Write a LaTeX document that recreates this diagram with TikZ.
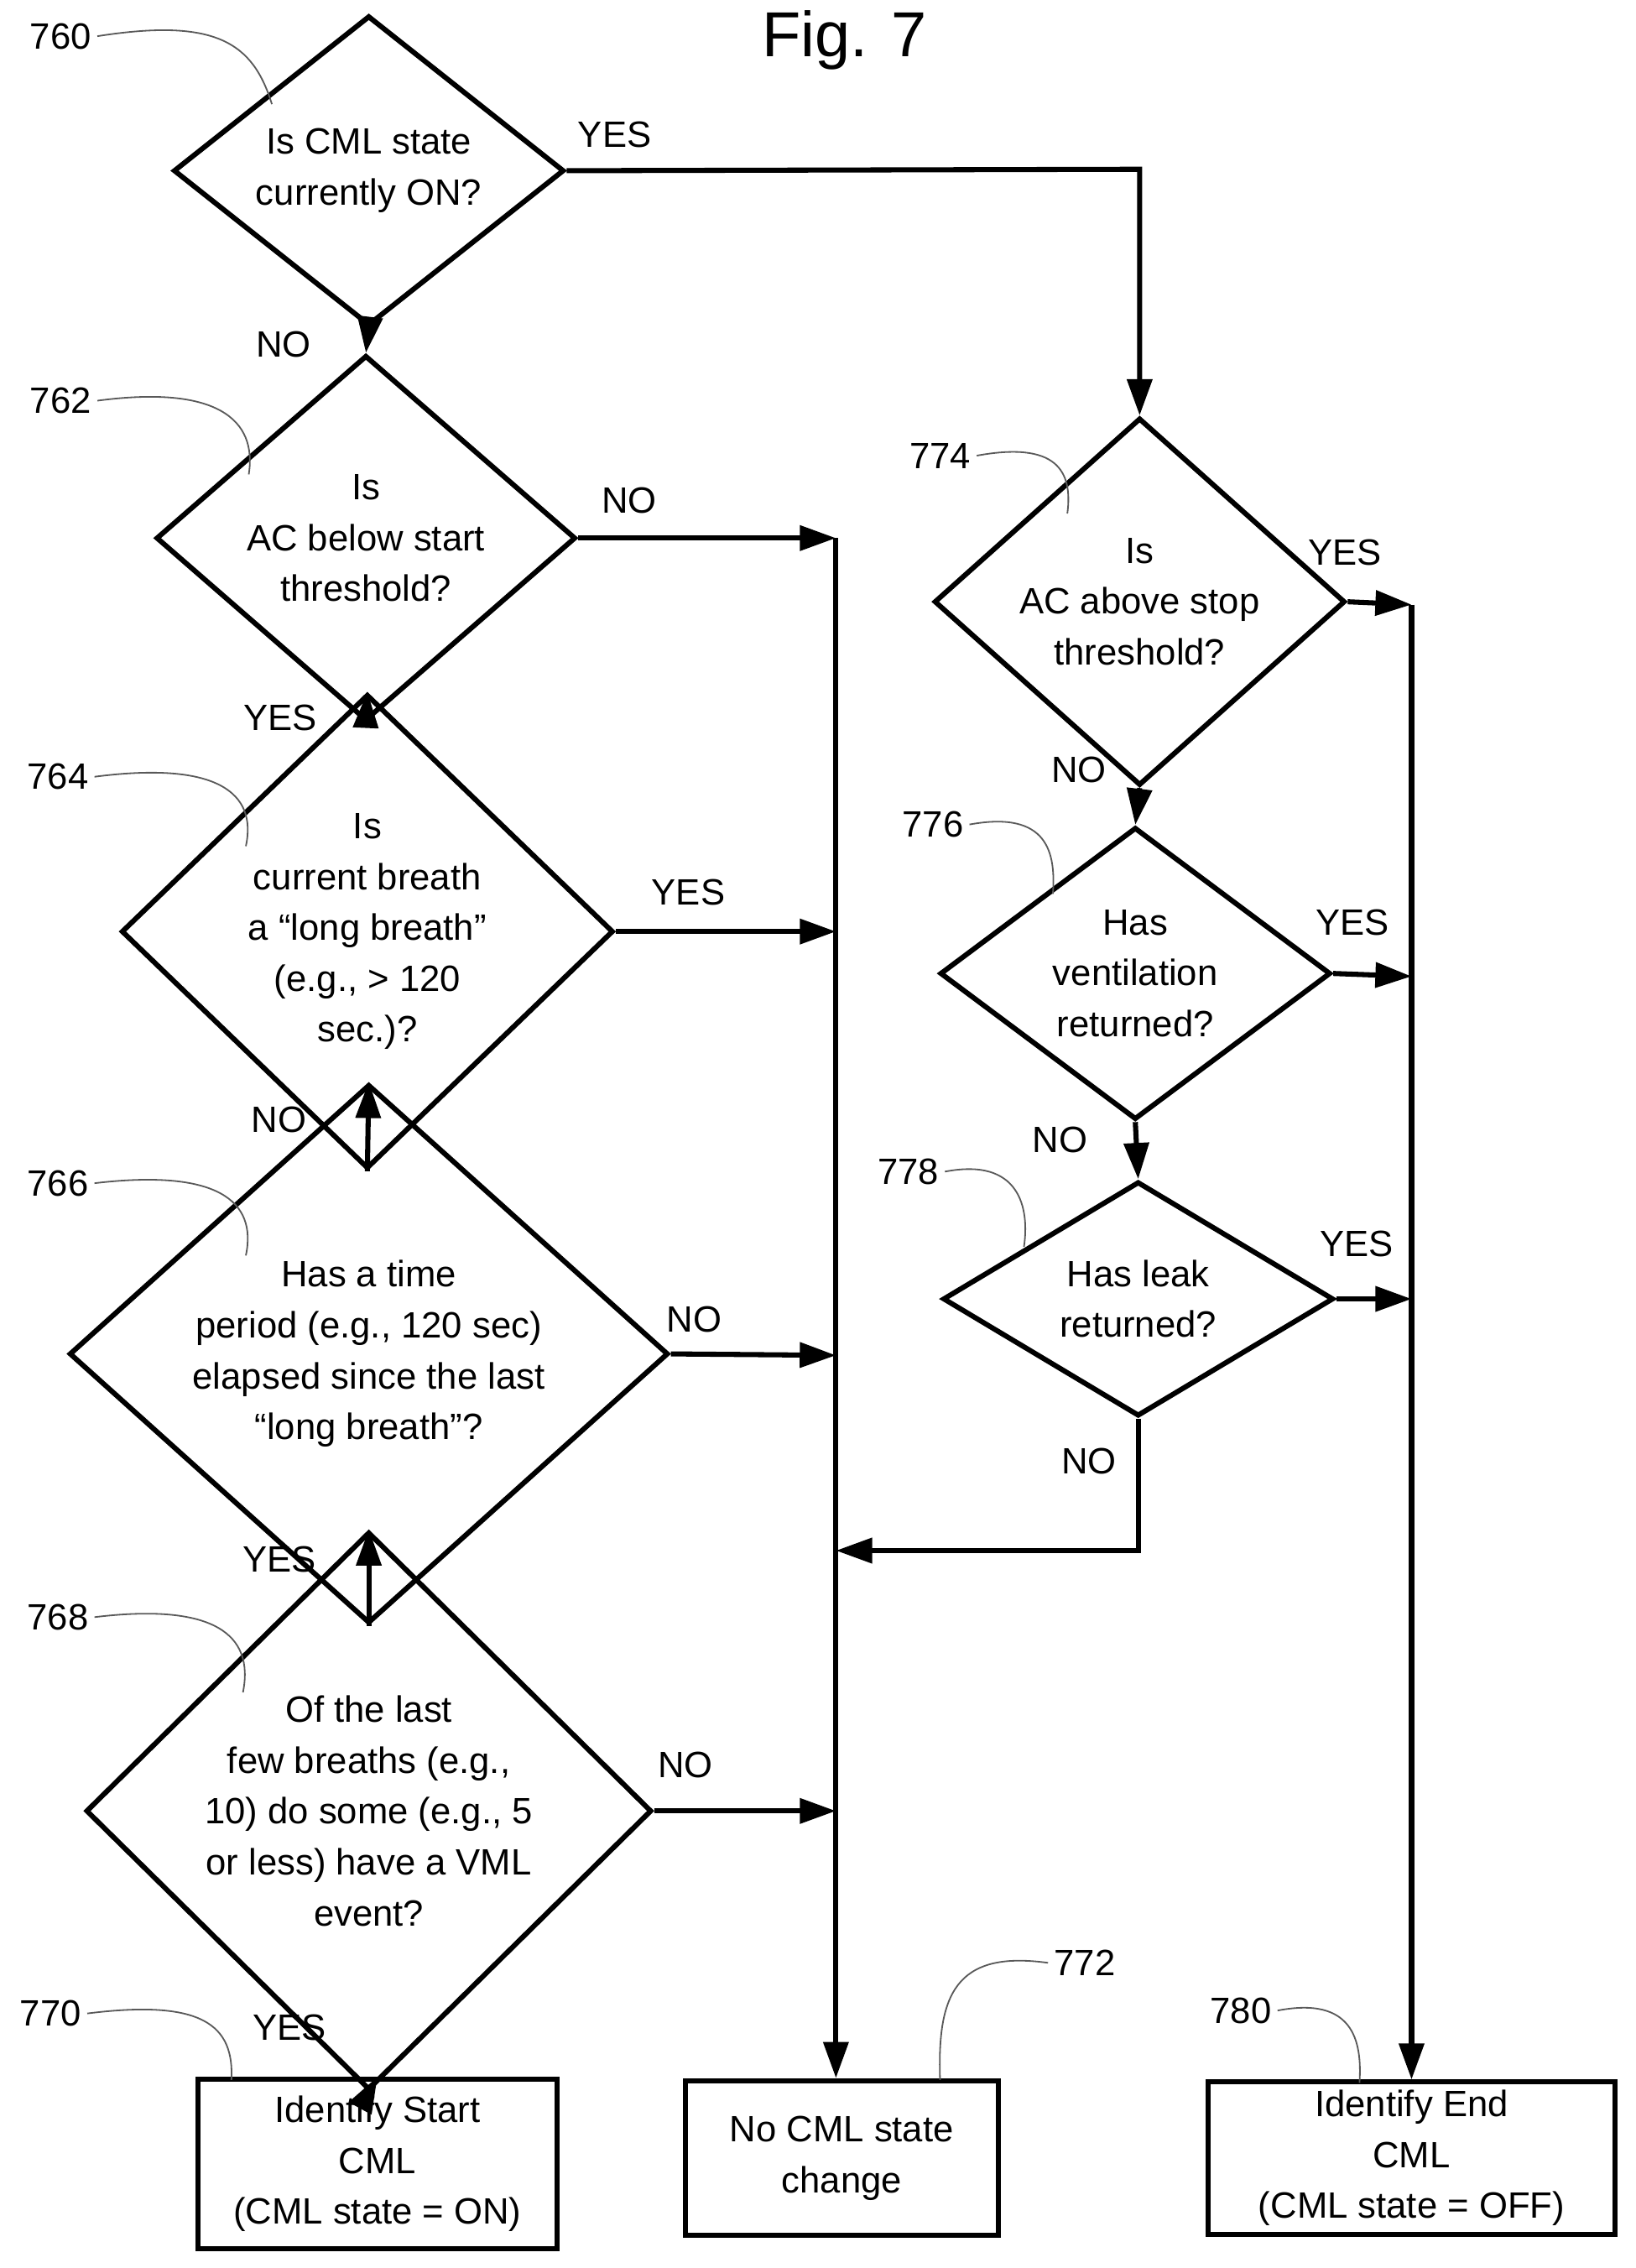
\documentclass[tikz,border=0pt]{standalone}
\usepackage{fontspec}
\setmainfont{Liberation Sans}
\usetikzlibrary{shapes.geometric,arrows.meta,positioning}
\tikzstyle{dec}=[draw, shape=diamond, inner sep=0, align=center, line width=1pt]
\tikzstyle{act}=[draw, rectangle, inner sep=0, align=center, line width=1pt]
\tikzstyle{flow}=[line width=1pt, -{Triangle[length=0.25cm,width=0.17cm]}]
\tikzstyle{lead}=[line width=0.3pt, gray!70!black]
\tikzstyle{num}=[inner sep=1pt]
\begin{document}
\begin{tikzpicture}[x=0.01cm, y=-0.01cm, font=\fontsize{7.2}{10}\selectfont]
\useasboundingbox (0,0) rectangle (1131,1568);
\node[font=\fontsize{12.5}{14}\selectfont] (fig) at (584,28) {Fig. 7};
% decisions, left column
\node[dec, minimum width=2.70cm, minimum height=1.77cm] (d760) at (255,118) {Is CML state\\currently ON?};
\node[dec, minimum width=2.90cm, minimum height=1.89cm] (d762) at (253,372) {Is\\AC below start\\threshold?};
\node[dec, minimum width=3.40cm, minimum height=2.15cm] (d764) at (254,644) {Is\\current breath\\a ``long breath''\\(e.g., > 120\\sec.)?};
\node[dec, minimum width=4.14cm, minimum height=2.21cm] (d766) at (255,936) {Has a time\\period (e.g., 120 sec)\\elapsed since the last\\``long breath''?};
\node[dec, minimum width=3.91cm, minimum height=2.73cm] (d768) at (255,1252) {Of the last\\few breaths (e.g.,\\10) do some (e.g., 5\\or less) have a VML\\event?};
% decisions, right column
\node[dec, minimum width=2.84cm, minimum height=1.82cm] (d774) at (788,416) {Is\\AC above stop\\threshold?};
\node[dec, minimum width=2.70cm, minimum height=1.86cm] (d776) at (785,673) {Has\\ventilation\\returned?};
\node[dec, minimum width=2.70cm, minimum height=1.60cm] (d778) at (787,898) {Has leak\\returned?};
% actions
\node[act, minimum width=2.48cm, minimum height=1.17cm] (b770) at (261,1496) {Identify Start\\CML\\(CML state = ON)};
\node[act, minimum width=2.16cm, minimum height=1.07cm] (b772) at (582,1492) {No CML state\\change};
\node[act, minimum width=2.81cm, minimum height=1.05cm] (b780) at (976,1492) {Identify End\\CML\\(CML state = OFF)};
% junctions
\coordinate (j1) at (578,372);
\coordinate (j2) at (578,644);
\coordinate (j3) at (578,937);
\coordinate (j4) at (578,1252);
\coordinate (j5) at (578,1072);
\coordinate (k0) at (788,117);
\coordinate (k1) at (976,418);
\coordinate (k2) at (976,675);
\coordinate (k3) at (976,898);
\coordinate (k4) at (787,1072);
% connectors
\draw[flow] (d760.south) -- (d762.north);
\draw[flow] (d762.south) -- (d764.north);
\draw[flow] (d764.south) -- (d766.north);
\draw[flow] (d766.south) -- (d768.north);
\draw[flow] (d768.south) -- (b770.north);
\draw[flow] (d762.east) -- (j1);
\draw[flow] (d764.east) -- (j2);
\draw[flow] (d766.east) -- (j3);
\draw[flow] (d768.east) -- (j4);
\draw[flow] (j1) -- (b772.north -| j1);
\draw[flow] (d760.east) -- (k0) -- (d774.north);
\draw[flow] (d774.south) -- (d776.north);
\draw[flow] (d776.south) -- (d778.north);
\draw[flow] (d774.east) -- (k1);
\draw[flow] (d776.east) -- (k2);
\draw[flow] (d778.east) -- (k3);
\draw[flow] (k1) -- (b780.north);
\draw[flow] (d778.south) -- (k4) -- (j5);
% branch labels
\node (y1) at (425,93) {YES};
\node (n1) at (196,238) {NO};
\node (n2) at (435,346) {NO};
\node (y2) at (194,496) {YES};
\node (y3) at (476,617) {YES};
\node (n3) at (193,774) {NO};
\node (n4) at (480,912) {NO};
\node (y4) at (193,1078) {YES};
\node (n5) at (474,1220) {NO};
\node (y5) at (200,1402) {YES};
\node (y6) at (930,382) {YES};
\node (n6) at (746,532) {NO};
\node (y7) at (935,638) {YES};
\node (n7) at (733,788) {NO};
\node (y8) at (938,860) {YES};
\node (n8) at (753,1010) {NO};
% reference numerals
\node[num] (r760) at (42,25) {760};
\draw[lead] (r760.east) .. controls (150,12) and (175,30) .. (188,72);
\node[num] (r762) at (42,277) {762};
\draw[lead] (r762.east) .. controls (150,266) and (178,290) .. (172,328);
\node[num] (r764) at (40,537) {764};
\draw[lead] (r764.east) .. controls (150,526) and (178,548) .. (170,585);
\node[num] (r766) at (40,818) {766};
\draw[lead] (r766.east) .. controls (150,808) and (178,830) .. (170,868);
\node[num] (r768) at (40,1118) {768};
\draw[lead] (r768.east) .. controls (148,1108) and (176,1130) .. (168,1170);
\node[num] (r770) at (35,1392) {770};
\draw[lead] (r770.east) .. controls (140,1382) and (162,1400) .. (160,1438);
\node[num] (r772) at (750,1357) {772};
\draw[lead] (r772.west) .. controls (660,1348) and (648,1380) .. (650,1438);
\node[num] (r774) at (650,315) {774};
\draw[lead] (r774.east) .. controls (730,305) and (742,325) .. (738,355);
\node[num] (r776) at (645,570) {776};
\draw[lead] (r776.east) .. controls (725,560) and (730,590) .. (728,618);
\node[num] (r778) at (628,810) {778};
\draw[lead] (r778.east) .. controls (705,800) and (712,835) .. (708,862);
\node[num] (r780) at (858,1390) {780};
\draw[lead] (r780.east) .. controls (935,1380) and (942,1410) .. (940,1440);
\end{tikzpicture}
\end{document}
